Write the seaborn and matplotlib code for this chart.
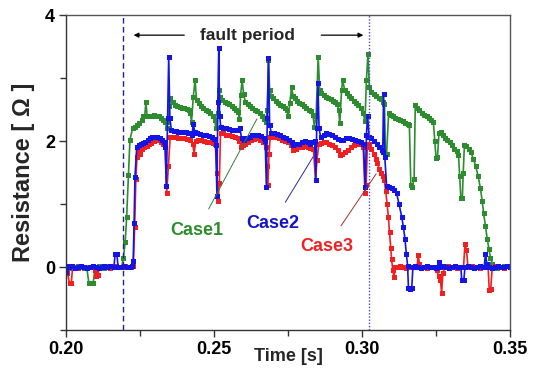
import matplotlib
matplotlib.use("Agg")
import matplotlib.pyplot as plt
import seaborn as sns
import pandas as pd

# ---------------- data ----------------
case_names = ["Case1", "Case2", "Case3"]

case1_points = [
    (0.2000, 0.00), (0.2010, -0.02), (0.2020, 0.01), (0.2030, 0.00), (0.2040, 0.02),
    (0.2050, 0.00), (0.2060, -0.01), (0.2070, 0.00), (0.2077, -0.25), (0.2085, -0.26),
    (0.2092, -0.25), (0.2098, -0.02), (0.2110, 0.01), (0.2120, 0.00), (0.2130, -0.02),
    (0.2140, 0.01), (0.2150, 0.00), (0.2160, 0.02), (0.2170, 0.00), (0.2180, 0.00),
    (0.2188, 0.00), (0.2194, 0.15), (0.2200, 0.40), (0.2205, 0.80), (0.2211, 1.46),
    (0.2216, 2.02), (0.2225, 2.20), (0.2232, 2.22), (0.2239, 2.25), (0.2247, 2.28),
    (0.2256, 2.33), (0.2261, 2.39), (0.2266, 2.40), (0.2270, 2.62), (0.2274, 2.40),
    (0.2282, 2.39), (0.2290, 2.40), (0.2298, 2.41), (0.2306, 2.40), (0.2314, 2.39),
    (0.2322, 2.37), (0.2329, 2.33), (0.2336, 2.30), (0.2340, 2.20), (0.2344, 2.30),
    (0.2349, 2.55), (0.2353, 2.68), (0.2360, 2.62), (0.2368, 2.57), (0.2376, 2.55),
    (0.2384, 2.54), (0.2392, 2.53), (0.2400, 2.52), (0.2408, 2.51), (0.2415, 2.49),
    (0.2420, 2.45), (0.2424, 2.30), (0.2430, 2.70), (0.2436, 2.97), (0.2441, 2.65),
    (0.2448, 2.60), (0.2456, 2.56), (0.2464, 2.53), (0.2472, 2.50), (0.2480, 2.48),
    (0.2488, 2.45), (0.2496, 2.40), (0.2502, 2.33), (0.2507, 2.20), (0.2512, 2.45),
    (0.2516, 2.81), (0.2521, 2.70), (0.2528, 2.65), (0.2536, 2.62), (0.2544, 2.60),
    (0.2552, 2.58), (0.2560, 2.55), (0.2568, 2.52), (0.2576, 2.49), (0.2582, 2.46),
    (0.2586, 2.35), (0.2590, 2.73), (0.2595, 2.97), (0.2600, 2.75), (0.2606, 2.62),
    (0.2614, 2.58), (0.2622, 2.55), (0.2630, 2.52), (0.2638, 2.50), (0.2646, 2.47),
    (0.2654, 2.44), (0.2662, 2.40), (0.2668, 2.35), (0.2674, 2.30), (0.2680, 2.50),
    (0.2684, 3.29), (0.2688, 2.81), (0.2694, 2.72), (0.2700, 2.68), (0.2708, 2.64),
    (0.2716, 2.60), (0.2724, 2.57), (0.2732, 2.55), (0.2740, 2.53), (0.2746, 2.50),
    (0.2751, 2.39), (0.2756, 2.60), (0.2762, 2.85), (0.2767, 2.72), (0.2773, 2.68),
    (0.2780, 2.63), (0.2788, 2.60), (0.2796, 2.58), (0.2804, 2.56), (0.2812, 2.53),
    (0.2820, 2.50), (0.2828, 2.47), (0.2834, 2.42), (0.2839, 2.23), (0.2845, 2.40),
    (0.2852, 3.34), (0.2857, 2.81), (0.2863, 2.76), (0.2870, 2.73), (0.2878, 2.70),
    (0.2886, 2.68), (0.2894, 2.66), (0.2902, 2.64), (0.2910, 2.62), (0.2916, 2.58),
    (0.2921, 2.50), (0.2925, 2.28), (0.2931, 2.81), (0.2935, 2.97), (0.2941, 2.81),
    (0.2948, 2.76), (0.2956, 2.71), (0.2964, 2.68), (0.2972, 2.64), (0.2980, 2.61),
    (0.2988, 2.57), (0.2996, 2.52), (0.3004, 2.45), (0.3010, 2.31), (0.3015, 2.97),
    (0.3020, 3.38), (0.3025, 2.85), (0.3032, 2.78), (0.3040, 2.74), (0.3048, 2.71),
    (0.3056, 2.68), (0.3064, 2.66), (0.3071, 2.62), (0.3076, 2.58), (0.3079, 1.75),
    (0.3083, 1.80), (0.3090, 2.44), (0.3097, 2.42), (0.3105, 2.40), (0.3113, 2.37),
    (0.3121, 2.35), (0.3130, 2.33), (0.3138, 2.31), (0.3146, 2.29), (0.3154, 2.27),
    (0.3160, 2.25), (0.3165, 1.30), (0.3170, 1.27), (0.3176, 1.40), (0.3180, 2.57),
    (0.3186, 2.53), (0.3194, 2.49), (0.3202, 2.45), (0.3210, 2.42), (0.3218, 2.40),
    (0.3226, 2.37), (0.3234, 2.34), (0.3241, 2.30), (0.3246, 2.00), (0.3250, 1.73),
    (0.3255, 1.75), (0.3260, 2.12), (0.3266, 2.15), (0.3272, 2.10), (0.3280, 2.05),
    (0.3288, 2.02), (0.3296, 1.98), (0.3304, 1.93), (0.3312, 1.88), (0.3320, 1.84),
    (0.3326, 1.78), (0.3330, 1.45), (0.3334, 1.09), (0.3339, 1.09), (0.3342, 1.50),
    (0.3346, 1.94), (0.3352, 1.92), (0.3360, 1.88), (0.3368, 1.82), (0.3376, 1.72),
    (0.3384, 1.60), (0.3392, 1.45), (0.3400, 1.25), (0.3406, 1.05), (0.3411, 0.85),
    (0.3417, 0.65), (0.3423, 0.45), (0.3429, 0.28), (0.3434, 0.15), (0.3440, 0.05),
    (0.3446, 0.00), (0.3455, -0.02), (0.3465, 0.00), (0.3480, 0.01), (0.3500, 0.00),
]

case2_points = [
    (0.2000, -0.08), (0.2004, 0.02), (0.2010, 0.00), (0.2020, 0.01), (0.2030, -0.01),
    (0.2040, 0.00), (0.2050, 0.02), (0.2060, 0.00), (0.2070, -0.02), (0.2080, 0.00),
    (0.2090, 0.01), (0.2100, 0.00), (0.2110, -0.01), (0.2120, 0.00), (0.2130, 0.01),
    (0.2140, 0.00), (0.2150, 0.01), (0.2162, 0.00), (0.2166, 0.21), (0.2172, 0.20),
    (0.2176, 0.00), (0.2185, 0.00), (0.2195, 0.01), (0.2205, 0.00), (0.2215, 0.00),
    (0.2222, 0.02), (0.2227, 0.10), (0.2230, 0.70), (0.2233, 1.43), (0.2239, 1.91),
    (0.2245, 1.94), (0.2252, 1.95), (0.2260, 1.97), (0.2268, 1.99), (0.2276, 2.02),
    (0.2284, 2.04), (0.2292, 2.06), (0.2300, 2.07), (0.2308, 2.07), (0.2316, 2.05),
    (0.2323, 2.02), (0.2330, 1.98), (0.2335, 1.90), (0.2339, 1.28), (0.2343, 2.36),
    (0.2347, 3.34), (0.2351, 2.36), (0.2356, 2.17), (0.2364, 2.16), (0.2372, 2.16),
    (0.2380, 2.15), (0.2388, 2.15), (0.2396, 2.14), (0.2404, 2.14), (0.2412, 2.13),
    (0.2420, 2.12), (0.2426, 2.10), (0.2430, 2.27), (0.2435, 2.15), (0.2442, 2.12),
    (0.2452, 2.11), (0.2462, 2.10), (0.2472, 2.09), (0.2482, 2.08), (0.2492, 2.06),
    (0.2500, 2.03), (0.2506, 1.94), (0.2510, 1.12), (0.2513, 2.62), (0.2516, 3.47),
    (0.2519, 2.40), (0.2523, 2.22), (0.2531, 2.21), (0.2540, 2.20), (0.2550, 2.19),
    (0.2560, 2.18), (0.2570, 2.17), (0.2580, 2.18), (0.2588, 2.20), (0.2593, 2.04),
    (0.2600, 2.02), (0.2610, 2.04), (0.2620, 2.07), (0.2630, 2.09), (0.2640, 2.10),
    (0.2650, 2.10), (0.2660, 2.08), (0.2668, 2.05), (0.2673, 2.00), (0.2677, 1.27),
    (0.2680, 2.36), (0.2684, 3.31), (0.2688, 2.25), (0.2694, 2.12), (0.2704, 2.12),
    (0.2714, 2.11), (0.2724, 2.10), (0.2734, 2.07), (0.2744, 2.05), (0.2754, 2.02),
    (0.2762, 1.98), (0.2768, 1.94), (0.2776, 1.95), (0.2786, 1.96), (0.2796, 1.98),
    (0.2806, 2.00), (0.2816, 1.98), (0.2825, 1.96), (0.2833, 1.98), (0.2840, 2.00),
    (0.2844, 1.38), (0.2847, 2.20), (0.2851, 2.92), (0.2855, 2.20), (0.2860, 2.07),
    (0.2870, 2.10), (0.2880, 2.12), (0.2890, 2.11), (0.2900, 2.10), (0.2910, 2.06),
    (0.2920, 2.03), (0.2928, 2.01), (0.2936, 2.02), (0.2946, 2.04), (0.2956, 2.04),
    (0.2966, 2.03), (0.2976, 2.02), (0.2986, 2.00), (0.2995, 1.99), (0.3005, 1.96),
    (0.3011, 1.27), (0.3015, 2.10), (0.3019, 2.40), (0.3024, 2.07), (0.3032, 2.04),
    (0.3040, 2.00), (0.3050, 1.95), (0.3058, 1.90), (0.3066, 1.85), (0.3070, 1.82),
    (0.3073, 2.75), (0.3077, 1.75), (0.3083, 1.29), (0.3091, 1.27), (0.3100, 1.25),
    (0.3108, 1.22), (0.3117, 1.17), (0.3125, 1.00), (0.3134, 0.80), (0.3140, 0.63),
    (0.3145, 0.45), (0.3150, 0.20), (0.3154, 0.02), (0.3157, -0.34), (0.3163, -0.35),
    (0.3168, -0.34), (0.3172, 0.00), (0.3180, 0.01), (0.3190, 0.00), (0.3200, -0.01),
    (0.3210, 0.00), (0.3220, 0.01), (0.3230, 0.00), (0.3240, 0.00), (0.3250, -0.01),
    (0.3256, 0.00), (0.3260, 0.08), (0.3265, 0.00), (0.3275, 0.01), (0.3285, 0.00),
    (0.3295, -0.01), (0.3305, 0.00), (0.3315, 0.01), (0.3325, 0.00), (0.3334, 0.00),
    (0.3337, -0.21), (0.3344, -0.21), (0.3348, 0.00), (0.3358, 0.01), (0.3368, 0.00),
    (0.3378, -0.01), (0.3388, 0.00), (0.3398, 0.01), (0.3408, 0.00), (0.3413, 0.00),
    (0.3417, 0.21), (0.3422, 0.05), (0.3430, 0.00), (0.3440, -0.01), (0.3450, 0.00),
    (0.3460, 0.01), (0.3470, 0.00), (0.3480, 0.00), (0.3490, 0.01), (0.3500, 0.00),
]

case3_points = [
    (0.2000, 0.00), (0.2005, -0.10), (0.2012, -0.26), (0.2018, -0.25), (0.2022, -0.02),
    (0.2030, 0.00), (0.2040, -0.02), (0.2050, 0.01), (0.2060, 0.00), (0.2070, -0.01),
    (0.2080, 0.00), (0.2090, 0.01), (0.2098, -0.05), (0.2102, -0.15), (0.2108, -0.12),
    (0.2112, -0.02), (0.2120, 0.00), (0.2130, 0.01), (0.2140, 0.00), (0.2150, -0.01),
    (0.2160, 0.00), (0.2170, 0.01), (0.2180, 0.00), (0.2190, 0.00), (0.2200, 0.01),
    (0.2210, 0.00), (0.2220, 0.00), (0.2225, 0.02), (0.2228, 0.10), (0.2232, 0.64),
    (0.2236, 1.40), (0.2240, 1.75), (0.2245, 1.86), (0.2250, 1.80), (0.2256, 1.88),
    (0.2264, 1.90), (0.2272, 1.92), (0.2280, 1.95), (0.2288, 1.97), (0.2296, 2.00),
    (0.2304, 2.02), (0.2312, 2.02), (0.2320, 1.99), (0.2328, 1.95), (0.2335, 1.90),
    (0.2340, 1.17), (0.2346, 1.60), (0.2352, 2.07), (0.2360, 2.07), (0.2370, 2.06),
    (0.2380, 2.05), (0.2390, 2.05), (0.2400, 2.04), (0.2410, 2.03), (0.2420, 2.02),
    (0.2428, 1.95), (0.2433, 1.80), (0.2438, 2.00), (0.2446, 2.02), (0.2456, 2.01),
    (0.2466, 2.00), (0.2476, 1.99), (0.2486, 1.98), (0.2496, 1.97), (0.2504, 1.96),
    (0.2510, 1.50), (0.2514, 1.05), (0.2518, 1.33), (0.2522, 2.12), (0.2530, 2.12),
    (0.2540, 2.10), (0.2550, 2.09), (0.2560, 2.08), (0.2570, 2.07), (0.2580, 2.05),
    (0.2586, 2.00), (0.2591, 1.91), (0.2598, 1.94), (0.2606, 1.96), (0.2616, 1.98),
    (0.2626, 2.01), (0.2636, 2.03), (0.2646, 2.04), (0.2656, 2.02), (0.2666, 1.99),
    (0.2674, 1.90), (0.2678, 1.60), (0.2682, 1.30), (0.2686, 1.80), (0.2690, 2.07),
    (0.2700, 2.07), (0.2710, 2.06), (0.2720, 2.04), (0.2730, 2.02), (0.2740, 2.00),
    (0.2750, 1.98), (0.2760, 1.93), (0.2768, 1.86), (0.2776, 1.88), (0.2786, 1.90),
    (0.2796, 1.91), (0.2806, 1.92), (0.2816, 1.91), (0.2826, 1.89), (0.2836, 1.87),
    (0.2843, 1.38), (0.2848, 1.70), (0.2854, 1.95), (0.2862, 1.97), (0.2870, 1.99),
    (0.2880, 1.98), (0.2890, 1.96), (0.2900, 1.94), (0.2910, 1.90), (0.2918, 1.85),
    (0.2926, 1.78), (0.2934, 1.80), (0.2944, 1.83), (0.2954, 1.86), (0.2964, 1.90),
    (0.2974, 1.93), (0.2984, 1.95), (0.2994, 1.96), (0.3004, 1.90), (0.3010, 1.17),
    (0.3014, 1.30), (0.3018, 1.90), (0.3024, 1.95), (0.3032, 1.88), (0.3040, 1.80),
    (0.3046, 1.72), (0.3052, 1.65), (0.3058, 1.56), (0.3064, 1.50), (0.3070, 1.45),
    (0.3075, 1.38), (0.3080, 1.20), (0.3085, 1.00), (0.3089, 0.80), (0.3093, 0.55),
    (0.3097, 0.30), (0.3100, 0.12), (0.3104, -0.05), (0.3108, -0.16), (0.3112, 0.00),
    (0.3120, 0.00), (0.3130, 0.01), (0.3140, 0.00), (0.3150, -0.01), (0.3160, 0.00),
    (0.3170, 0.00), (0.3180, 0.01), (0.3186, 0.00), (0.3190, 0.19), (0.3194, 0.05),
    (0.3200, 0.00), (0.3210, 0.00), (0.3220, -0.01), (0.3230, 0.00), (0.3240, 0.00),
    (0.3252, -0.05), (0.3260, -0.15), (0.3265, -0.20), (0.3269, -0.42), (0.3273, -0.10),
    (0.3280, 0.00), (0.3290, 0.01), (0.3300, 0.00), (0.3310, 0.00), (0.3320, -0.01),
    (0.3330, 0.00), (0.3343, 0.00), (0.3348, 0.37), (0.3353, 0.27), (0.3358, 0.00),
    (0.3370, 0.01), (0.3380, 0.00), (0.3390, 0.00), (0.3400, -0.01), (0.3410, 0.00),
    (0.3420, 0.00), (0.3426, 0.00), (0.3430, -0.37), (0.3435, -0.35), (0.3440, 0.00),
    (0.3450, 0.01), (0.3460, 0.00), (0.3470, 0.00), (0.3480, -0.01), (0.3500, 0.00),
]

x_ticks = [0.20, 0.25, 0.30, 0.35]
x_tick_labels = ["0.20", "0.25", "0.30", "0.35"]
y_ticks = [0, 2, 4]
y_tick_labels = ["0", "2", "4"]
fault_start, fault_end = 0.2191, 0.3022

# ---------------- build table ----------------
rows = []
for name, pts in zip(case_names, [case1_points, case2_points, case3_points]):
    for i, (t, v) in enumerate(pts):
        rows.append({"t": t, "r": v, "case": name, "i": i})
df = pd.DataFrame(rows)

colors = {"Case1": "#2d8c2d", "Case2": "#1414e6", "Case3": "#f02020"}

sns.set_style("ticks")
plt.rcParams["font.family"] = ["Liberation Sans", "DejaVu Sans"]

fig = plt.figure(figsize=(5.35, 3.75), dpi=100)
ax = fig.add_axes([66 / 535, 1 - 330 / 375, (510 - 66) / 535, (330 - 15) / 375])

sns.lineplot(data=df, x="t", y="r", hue="case", hue_order=["Case1", "Case3", "Case2"],
             palette=colors, marker="s", markersize=3.6, markeredgewidth=0,
             linewidth=1.2, sort=False, estimator=None, legend=False, ax=ax)

ax.axvline(fault_start, color="#22228a", lw=1.0, ls=(0, (4, 2.5)))
ax.axvline(fault_end, color="#4a4acc", lw=1.0, ls=(0, (1, 1.3)))

ax.set_xlim(0.20, 0.35)
ax.set_ylim(-1, 4)
ax.set_xticks(x_ticks)
ax.set_xticklabels(x_tick_labels)
ax.set_yticks(y_ticks)
ax.set_yticklabels(y_tick_labels)
ax.set_xticks([0.225, 0.275, 0.325], minor=True)
ax.set_yticks([-1, 1, 3], minor=True)
ax.tick_params(which="major", direction="out", length=5, width=1, colors="#333333",
               labelsize=13, labelcolor="black", pad=3)
ax.tick_params(which="minor", direction="out", length=4, width=1, colors="#333333")
for lab in ax.get_xticklabels() + ax.get_yticklabels():
    lab.set_fontweight("bold")

for s in ["left", "bottom"]:
    ax.spines[s].set_color("#333333")
    ax.spines[s].set_linewidth(1.0)
for s in ["top", "right"]:
    ax.spines[s].set_visible(True)
    ax.spines[s].set_color("#555555")
    ax.spines[s].set_linewidth(1.0)

ax.set_xlabel("Time [s]", fontsize=13, fontweight="bold")
ax.xaxis.set_label_coords(0.5, -0.058)
ax.set_ylabel("Resistance [ Ω ]", fontsize=17, fontweight="bold", labelpad=7)

# fault period annotation
ax.text(0.2614, 3.68, "fault period", ha="center", va="center", fontsize=12.5,
        fontweight="bold")
ax.annotate("", xy=(0.2219, 3.68), xytext=(0.2409, 3.68),
            arrowprops=dict(arrowstyle="-|>", color="black", lw=0.9, mutation_scale=7))
ax.annotate("", xy=(0.3014, 3.68), xytext=(0.2853, 3.68),
            arrowprops=dict(arrowstyle="-|>", color="black", lw=0.9, mutation_scale=7))

# case labels with leader lines
ax.annotate("Case1", xy=(0.2645, 2.35), xytext=(0.2443, 0.58), ha="center", va="center",
            fontsize=13, fontweight="bold", color="#2d8c2d",
            arrowprops=dict(arrowstyle="-", color="#3a7a3a", lw=0.7, shrinkA=8, shrinkB=0))
ax.annotate("Case2", xy=(0.2835, 1.75), xytext=(0.2697, 0.69), ha="center", va="center",
            fontsize=13, fontweight="bold", color="#1414c8",
            arrowprops=dict(arrowstyle="-", color="#2a2a90", lw=0.7, shrinkA=8, shrinkB=0))
ax.annotate("Case3", xy=(0.3048, 1.48), xytext=(0.2881, 0.32), ha="center", va="center",
            fontsize=13, fontweight="bold", color="#f02020",
            arrowprops=dict(arrowstyle="-", color="#a03030", lw=0.7, shrinkA=8, shrinkB=0))

fig.savefig("out.png", dpi=100)
